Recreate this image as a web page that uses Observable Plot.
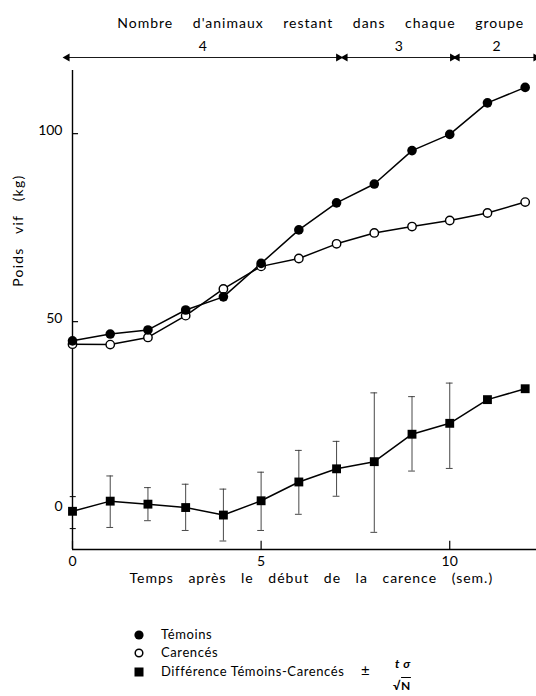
<!DOCTYPE html>
<html><head><meta charset="utf-8">
<script src="https://cdn.jsdelivr.net/npm/d3@7"></script>
<script src="https://cdn.jsdelivr.net/npm/@observablehq/plot@0.6"></script>
<style>
body{margin:0;background:#fff;}
#wrap{position:relative;width:536px;height:696px;font-family:Lato,"Open Sans",sans-serif;color:#000;overflow:hidden;}
.lg{position:absolute;font-size:13px;letter-spacing:0.6px;line-height:13px;white-space:nowrap;}
.mk{position:absolute;}
</style></head><body><div id="wrap"></div>
<script>
// ---- data ----
const weeks      = [0, 1, 2, 3, 4, 5, 6, 7, 8, 9, 10, 11, 12];
const temoins    = [44.9, 46.7, 47.8, 53.1, 56.6, 65.5, 74.4, 81.6, 86.6, 95.5, 99.8, 108.2, 112.3];
const carences   = [44.0, 43.9, 45.8, 51.6, 58.7, 64.7, 66.8, 70.7, 73.6, 75.3, 76.9, 78.9, 81.8];
const difference = [-3.9, -1.2, -2.0, -2.9, -4.9, -1.1, 3.9, 7.4, 9.3, 16.6, 19.5, 25.8, 28.7];
const errHigh    = [null, 5.5, 2.4, 3.3, 2.0, 6.5, 12.3, 14.7, 27.6, 26.6, 30.2, null, null];
const errLow     = [null, -8.2, -6.4, -9.0, -11.8, -9.0, -4.7, 0.1, -9.5, 6.8, 7.5, null, null];
const xTicks     = [0, 5, 10];
const yTicks     = [50, 100];
const diffTicks  = [0, -8.5];
const diffLabels = [0];
const groupCounts = ["4", "3", "2"];
const groupStart  = [-0.14, 7.23, 10.2];
const groupEnd    = [7.05, 10.07, 12.28];
const headerText = "Nombre d'animaux restant dans chaque groupe";
const xLabel = "Temps après le début de la carence (sem.)";
const yLabel = "Poids vif (kg)";

// ---- tables ----
const rows = weeks.map((wk, i) => ({wk, temoins: temoins[i], carences: carences[i], diff: difference[i], hi: errHigh[i], lo: errLow[i]}));
const errRows = rows.filter(d => d.hi != null);
const groups = groupCounts.map((n, i) => ({n, start: groupStart[i], end: groupEnd[i], mid: (groupStart[i] + groupEnd[i]) / 2}));

// layout
const DIFF_ZERO = 3.46; // position of the difference axis zero on the weight scale
const yMin = -10.6, yMax = 116.8;
const dpos = v => DIFF_ZERO + v;
const capW = 0.09;

const plot = Plot.plot({
  width: 536, height: 600,
  marginLeft: 72, marginRight: 0, marginTop: 70, marginBottom: 51,
  style: {fontFamily: "Lato, 'Open Sans', sans-serif", fontSize: "14px", background: "white", color: "black"},
  x: {domain: [0, 12.3], axis: null},
  y: {domain: [yMin, yMax], axis: null},
  marks: [
    // axes
    Plot.ruleX([0], {stroke: "black", strokeWidth: 1.4}),
    Plot.ruleY([yMin], {stroke: "black", strokeWidth: 1.4}),
    Plot.ruleX(xTicks, {x: d => d, y1: yMin, y2: yMin + 2.2, stroke: "black", strokeWidth: 1.2}),
    Plot.ruleY(yTicks, {y: d => d, x1: 0, x2: 0.16, stroke: "black", strokeWidth: 1.2}),
    Plot.ruleY(diffTicks, {y: d => dpos(d), x1: -0.06, x2: 0.1, stroke: "black", strokeWidth: 1}),
    Plot.text(xTicks, {x: d => d, y: yMin, dy: 12, text: d => String(d), fontSize: 14, letterSpacing: 1}),
    Plot.text(yTicks, {x: 0, y: d => d, dx: -10, dy: -3, textAnchor: "end", text: d => String(d), fontSize: 14}),
    Plot.text(diffLabels, {x: 0, y: d => dpos(d), dx: -10, dy: 10, textAnchor: "end", text: d => String(d), fontSize: 14}),
    Plot.text([xLabel], {x: 6.33, frameAnchor: "bottom", dy: 33, text: d => d, fontSize: 14}),
    Plot.text([yLabel], {x: 0, y: 74.2, dx: -54, rotate: -90, text: d => d, fontSize: 14}),
    // header
    Plot.text([headerText], {x: 6.58, frameAnchor: "top", dy: -52, text: d => d, fontSize: 14}),
    Plot.text(groups, {x: "mid", frameAnchor: "top", dy: -29, text: "n", fontSize: 14}),
    Plot.link(groups, {x1: "start", x2: "end", y1: yMax, y2: yMax, dy: -13, stroke: "black", strokeWidth: 0.9}),
    Plot.dot(groups, {x: "start", y: yMax, dy: -13, symbol: "triangle", rotate: -90, r: 3, fill: "black", stroke: "none"}),
    Plot.dot(groups, {x: "end", y: yMax, dy: -13, symbol: "triangle", rotate: 90, r: 3, fill: "black", stroke: "none"}),
    // error bars
    Plot.ruleX(errRows, {x: "wk", y1: d => dpos(d.lo), y2: d => dpos(d.hi), stroke: "#333", strokeWidth: 0.9}),
    Plot.ruleY(errRows, {y: d => dpos(d.hi), x1: d => d.wk - capW, x2: d => d.wk + capW, stroke: "#333", strokeWidth: 0.9}),
    Plot.ruleY(errRows, {y: d => dpos(d.lo), x1: d => d.wk - capW, x2: d => d.wk + capW, stroke: "#333", strokeWidth: 0.9}),
    // difference
    Plot.line(rows, {x: "wk", y: d => dpos(d.diff), stroke: "black", strokeWidth: 1.5}),
    Plot.dot(rows, {x: "wk", y: d => dpos(d.diff), symbol: "square", r: 5, fill: "black", stroke: "none"}),
    // weights
    Plot.line(rows, {x: "wk", y: "carences", stroke: "black", strokeWidth: 1.5}),
    Plot.line(rows, {x: "wk", y: "temoins", stroke: "black", strokeWidth: 1.5}),
    Plot.dot(rows, {x: "wk", y: "carences", r: 4.2, fill: "white", stroke: "black", strokeWidth: 1.4}),
    Plot.dot(rows, {x: "wk", y: "temoins", r: 4.8, fill: "black", stroke: "none"})
  ]
});

// spacing of the widely spaced lettering
d3.select(plot).selectAll("text").each(function() {
  const t = this.textContent;
  if (t === headerText) { this.style.wordSpacing = "15px"; this.style.letterSpacing = "1px"; }
  if (t === xLabel) { this.style.wordSpacing = "10px"; this.style.letterSpacing = "1px"; }
  if (t === yLabel) { this.style.wordSpacing = "9px"; this.style.letterSpacing = "1.2px"; }
});

const wrap = document.getElementById("wrap");
wrap.appendChild(plot);

// legend
const legend = [
  {sym: "filled", text: "Témoins", y: 635},
  {sym: "open", text: "Carencés", y: 653},
  {sym: "square", text: "Différence Témoins-Carencés", y: 672}
];
for (const item of legend) {
  const mk = document.createElementNS("http://www.w3.org/2000/svg", "svg");
  mk.setAttribute("width", 14); mk.setAttribute("height", 14);
  mk.setAttribute("class", "mk");
  mk.style.left = (139 - 7) + "px"; mk.style.top = (item.y - 7) + "px";
  let shape;
  if (item.sym === "filled") shape = '<circle cx="7" cy="7" r="4.6" fill="black"/>';
  else if (item.sym === "open") shape = '<circle cx="7" cy="7" r="3.8" fill="white" stroke="black" stroke-width="1.5"/>';
  else shape = '<rect x="2.5" y="2.5" width="9" height="9" fill="black"/>';
  mk.innerHTML = shape;
  wrap.appendChild(mk);
  const tx = document.createElement("div");
  tx.className = "lg";
  tx.style.left = "161px"; tx.style.top = (item.y - 7) + "px";
  tx.textContent = item.text;
  wrap.appendChild(tx);
}
const pm = document.createElement("div");
pm.className = "lg"; pm.style.left = "361px"; pm.style.top = "664px"; pm.style.fontSize = "15px";
pm.textContent = "±";
wrap.appendChild(pm);
const num = document.createElement("div");
num.className = "lg"; num.style.left = "395px"; num.style.top = "657px"; num.style.fontStyle = "italic"; num.style.fontWeight = "bold"; num.style.fontSize = "12px";
num.textContent = "t σ";
wrap.appendChild(num);
const den = document.createElement("div");
den.className = "lg"; den.style.left = "393px"; den.style.top = "679px"; den.style.fontWeight = "bold"; den.style.fontSize = "12px";
den.innerHTML = '√<span style="text-decoration:overline">N</span>';
wrap.appendChild(den);
</script></body></html>
